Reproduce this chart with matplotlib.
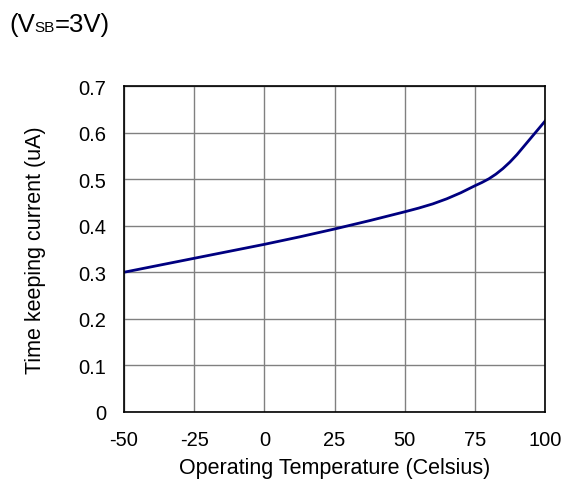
# Time keeping current vs. operating temperature (V_SB = 3V)

import matplotlib.pyplot as plt

plt.rcParams['font.family'] = ['Liberation Sans', 'DejaVu Sans']
plt.rcParams['axes.unicode_minus'] = False

# Data
temperature = [-50, -37.5, -25, -12.5, 0, 12.5, 25, 37.5, 50, 55, 60, 65, 70, 75,
               77.5, 80, 82.5, 85, 87.5, 90, 92.5, 95, 97.5, 100]
current = [0.300, 0.315, 0.330, 0.345, 0.360, 0.376, 0.393, 0.411, 0.430, 0.438, 0.447, 0.458,
           0.471, 0.486, 0.493, 0.501, 0.511, 0.523, 0.537, 0.553, 0.571, 0.589, 0.607, 0.625]

x_ticks = [-50, -25, 0, 25, 50, 75, 100]
y_ticks = [0, 0.1, 0.2, 0.3, 0.4, 0.5, 0.6, 0.7]
y_labels = ['0', '0.1', '0.2', '0.3', '0.4', '0.5', '0.6', '0.7']

fig = plt.figure(figsize=(5.64, 4.85), dpi=100)
ax = fig.add_axes([124 / 564, 1 - 412.7 / 485, 421 / 564, 325.4 / 485])

ax.plot(temperature, current, color='#000080', linewidth=2)

ax.set_xlim(-50, 100)
ax.set_ylim(0, 0.7)
ax.set_xticks(x_ticks)
ax.set_yticks(y_ticks)
ax.set_yticklabels(y_labels)
ax.tick_params(length=0, labelsize=14.5, pad=13)
ax.grid(True, color='#808080', linewidth=1)
for s in ax.spines.values():
    s.set_linewidth(1.2)

ax.set_xlabel('Operating Temperature (Celsius)', fontsize=15.5)
ax.set_ylabel('Time keeping current (uA)', fontsize=15.5)
ax.xaxis.set_label_coords(0.5, -45 / 325.4)
ax.yaxis.set_label_coords(-78 / 421, 0.5)

# title with small subscript, placed piece by piece
fig.canvas.draw()
r = fig.canvas.get_renderer()
base = 1 - 32 / 485
t1 = fig.text(9 / 564, base, '(V', fontsize=18.5, va='baseline', ha='left')
x = t1.get_window_extent(r).x1
t2 = fig.text(x / 564, base, 'SB', fontsize=11, va='baseline', ha='left')
x = t2.get_window_extent(r).x1
fig.text(x / 564, base, '=3V)', fontsize=18.5, va='baseline', ha='left')

plt.savefig('out.png', dpi=100)
